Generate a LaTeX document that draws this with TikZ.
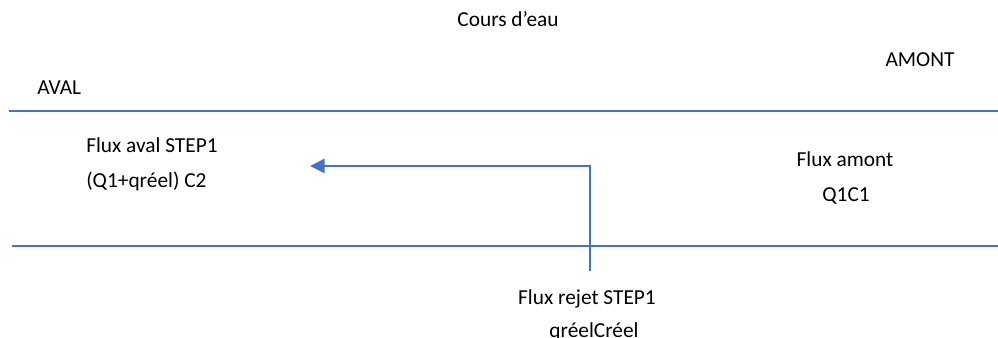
\documentclass[tikz,border=0pt]{standalone}
\usepackage{fontspec}
\setmainfont{Carlito}
\usetikzlibrary{arrows.meta}
\definecolor{offblue}{HTML}{4472C4}
\begin{document}
\begin{tikzpicture}[x=0.75pt,y=-0.75pt,
  lbl/.style={inner sep=0pt,anchor=base,font=\fontsize{16pt}{19pt}\selectfont},
  riverline/.style={draw=offblue,line width=1.2pt},
  flow/.style={draw=offblue,line width=1.2pt,-{Triangle[length=11pt,width=10.7pt]}}]
\useasboundingbox (0,0) rectangle (998,338);
\node[lbl] (cours) at (508,27) {Cours d’eau};
\node[lbl] (amont) at (920,66.5) {AMONT};
\node[lbl,anchor=base west] (aval) at (37,95) {AVAL};
\coordinate (t1) at (9,111);
\coordinate (t2) at (998,111);
\coordinate (b1) at (12,246);
\coordinate (b2) at (998,246);
\draw[riverline] (t1) -- (t2);
\draw[riverline] (b1) -- (b2);
\node[lbl,anchor=base west] (aval1) at (86,153) {Flux aval STEP1};
\node[lbl,anchor=base west] (aval2) at (86,187.5) {(Q1+qréel) C2};
\node[lbl] (am1) at (845,166.5) {Flux amont};
\node[lbl] (am2) at (846,201.5) {Q1C1};
\node[lbl] (rej1) at (587,304) {Flux rejet STEP1};
\node[lbl] (rej2) at (594,337) {qréelCréel};
\coordinate (src) at (590,271);
\coordinate (tip) at (310,166);
\draw[flow] (src) |- (tip);
\end{tikzpicture}
\end{document}
